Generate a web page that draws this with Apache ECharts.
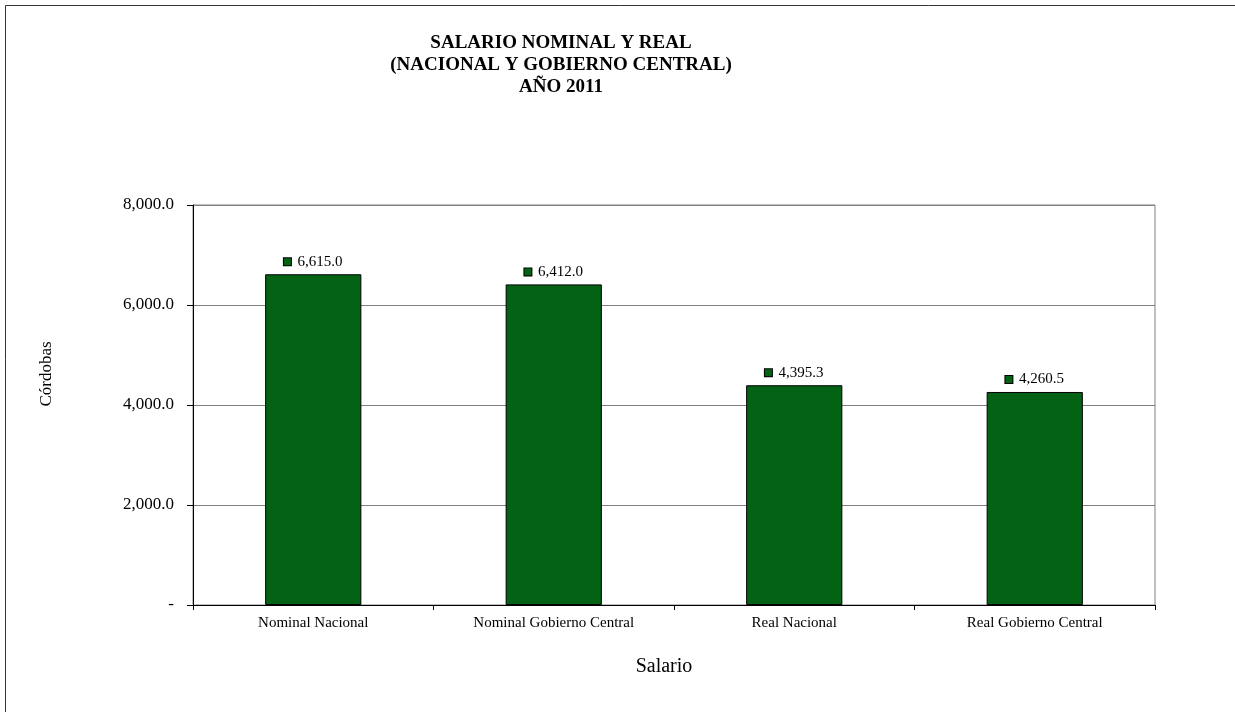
<!DOCTYPE html>
<html>
<head>
<meta charset="utf-8">
<script src="https://cdn.jsdelivr.net/npm/echarts@6/dist/echarts.min.js"></script>
<style>
  html, body { margin: 0; padding: 0; background: #fff; }
  #chart { width: 1235px; height: 712px; }
</style>
</head>
<body>
<div id="chart"></div>
<script>
const categories = ['Nominal Nacional', 'Nominal Gobierno Central', 'Real Nacional', 'Real Gobierno Central']
const salario = [6615.0, 6412.0, 4395.3, 4260.5]
const yTicks = [0, 2000, 8000]
const titleLines = ['SALARIO NOMINAL Y REAL', '(NACIONAL Y GOBIERNO CENTRAL)', 'AÑO 2011']

const serif = '"Liberation Serif", "Times New Roman", serif'
const barColor = '#036214'

const fmt = v => v === 0 ? '-' : v.toLocaleString('en-US', { minimumFractionDigits: 1, maximumFractionDigits: 1 })

const chart = echarts.init(document.getElementById('chart'))

const option = {
    animation: false,
    backgroundColor: '#fff',
    title: {
        text: titleLines.join('\n'),
        left: 556,
        top: 27,
        textAlign: 'center',
        textStyle: {
            fontFamily: serif,
            fontWeight: 'bold',
            fontSize: 19,
            lineHeight: 22,
            color: '#000'
        }
    },
    grid: {
        left: 193,
        right: 80,
        top: 205,
        bottom: 107,
        show: true,
        borderColor: '#808080',
        borderWidth: 1
    },
    graphic: [
        {
            type: 'rect',
            shape: { x: 5.5, y: 5.5, width: 1260, height: 740 },
            style: { fill: 'none', stroke: '#333', lineWidth: 1 },
            silent: true
        },
        {
            type: 'text',
            x: 47,
            y: 374,
            rotation: Math.PI / 2,
            style: {
                text: 'Córdobas',
                font: '17px ' + serif,
                fill: '#000',
                align: 'center',
                verticalAlign: 'middle'
            }
        },
        {
            type: 'text',
            x: 664,
            y: 667,
            style: {
                text: 'Salario',
                font: '20px ' + serif,
                fill: '#000',
                align: 'center',
                verticalAlign: 'middle'
            }
        }
    ],
    xAxis: {
        type: 'category',
        data: categories,
        boundaryGap: true,
        axisLine: { lineStyle: { color: '#000', width: 1 } },
        axisTick: { show: true, inside: false, length: 5, lineStyle: { color: '#000' } },
        axisLabel: {
            fontFamily: serif,
            fontSize: 15,
            color: '#000',
            margin: 11
        }
    },
    yAxis: {
        type: 'value',
        min: yTicks[0],
        max: yTicks[2],
        interval: yTicks[1],
        axisLine: { show: true, lineStyle: { color: '#000', width: 1 } },
        axisTick: { show: true, inside: false, length: 6, lineStyle: { color: '#000' } },
        splitLine: { lineStyle: { color: '#808080', width: 1 } },
        axisLabel: {
            fontFamily: serif,
            fontSize: 17,
            color: '#000',
            margin: 19,
            formatter: fmt
        }
    },
    series: [
        {
            name: 'Salario',
            type: 'bar',
            data: salario,
            barWidth: '40%',
            itemStyle: {
                color: barColor,
                borderColor: '#000',
                borderWidth: 1
            },
            label: {
                show: true,
                position: 'top',
                distance: 5,
                offset: [0, 0],
                formatter: p => '{sq|}  {v|' + fmt(p.value) + '}',
                rich: {
                    sq: {
                        width: 7,
                        height: 7,
                        backgroundColor: barColor,
                        borderColor: '#000',
                        borderWidth: 1
                    },
                    v: {
                        fontFamily: serif,
                        fontSize: 15,
                        color: '#000'
                    }
                }
            }
        }
    ]
}

option && chart.setOption(option)
</script>
</body>
</html>
